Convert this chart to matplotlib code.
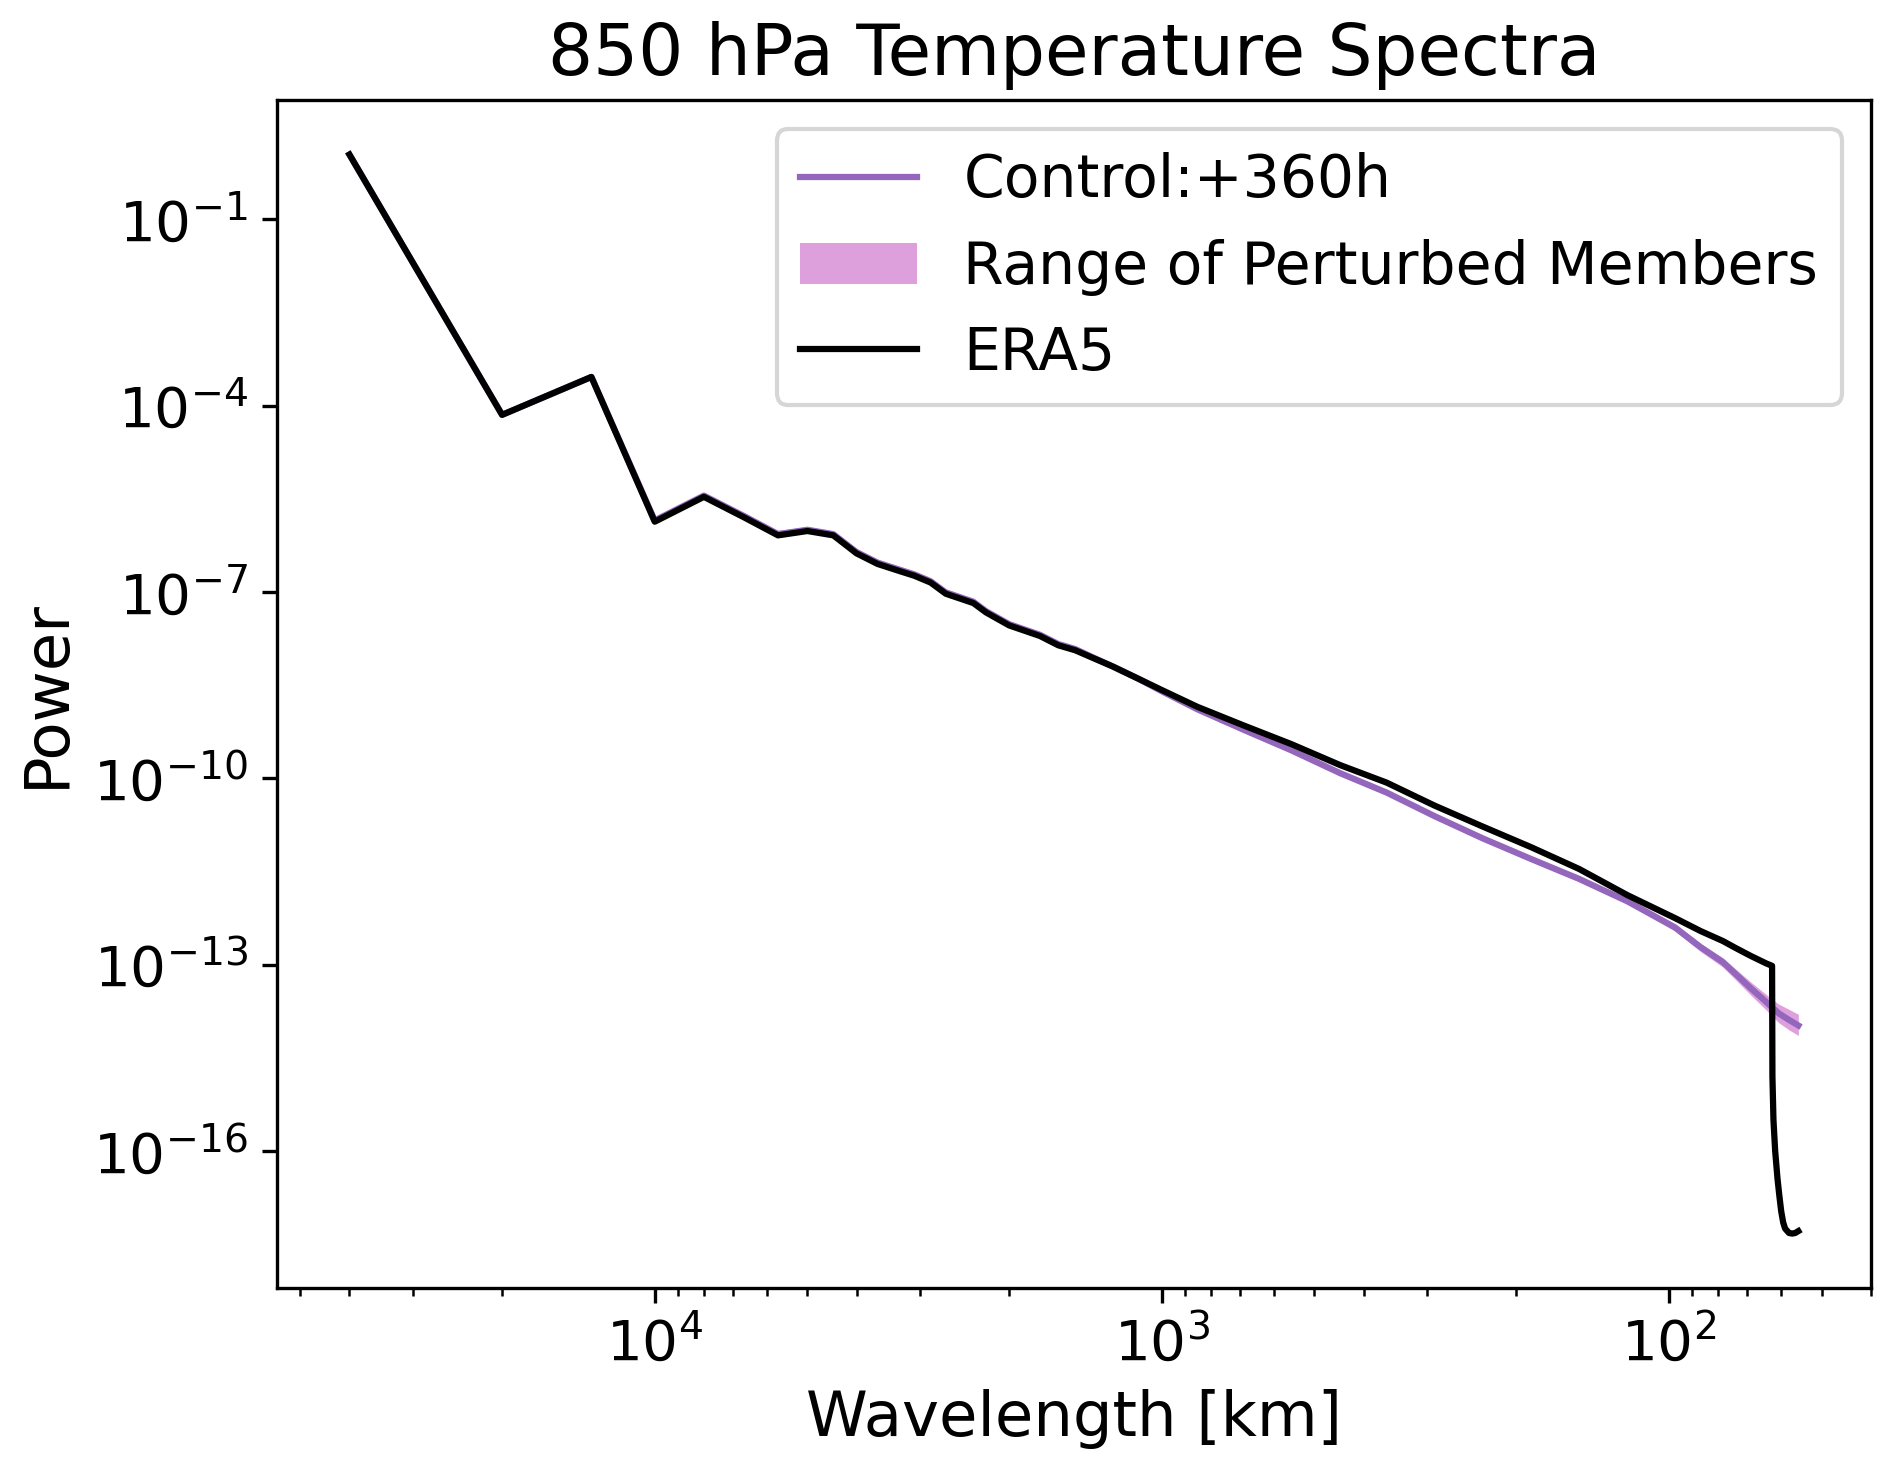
import matplotlib
matplotlib.use('Agg')
import matplotlib.pyplot as plt
import numpy as np

# global wavenumbers and log10(power)
era5_k = [1, 2, 3, 4, 5, 6, 7, 8, 9, 10, 11, 12, 13, 14, 15,
          17, 18, 20, 23, 25, 27, 29, 32, 36,
          40, 47, 58, 72, 90, 111, 138, 172, 214, 266, 331, 411, 462, 511, 538, 580, 622, 639,
          640, 643, 648, 655, 660, 666, 672, 678, 690, 700, 710, 720]
era5_logp = [0.04, -4.15, -3.54, -5.87, -5.47, -5.80, -6.09, -6.02, -6.09, -6.38, -6.55, -6.65, -6.74, -6.85, -7.03,
             -7.18, -7.33, -7.54, -7.71, -7.86, -7.94, -8.05, -8.20, -8.40,
             -8.58, -8.85, -9.15, -9.45, -9.79, -10.07, -10.44, -10.78, -11.11, -11.46, -11.88, -12.25, -12.46,
             -12.62, -12.72, -12.86, -12.98, -13.02,
             -14.8, -15.5, -16.0, -16.45, -16.7, -16.97, -17.15, -17.25, -17.32, -17.33, -17.32, -17.29]

ctrl_k = [1, 2, 3, 4, 5, 6, 7, 8, 9, 10, 11, 12, 13, 14, 15,
          17, 18, 20, 23, 25, 27, 29, 32, 36,
          40, 47, 58, 72, 90, 111, 138, 172, 214, 266, 331, 411, 462, 511, 538, 580, 622, 639,
          660, 690, 720]
ctrl_logp = [0.04, -4.15, -3.54, -5.85, -5.45, -5.78, -6.07, -6.00, -6.07, -6.36, -6.53, -6.63, -6.72, -6.83, -7.01,
             -7.16, -7.31, -7.52, -7.69, -7.84, -7.92, -8.04, -8.20, -8.40,
             -8.60, -8.89, -9.22, -9.55, -9.92, -10.23, -10.61, -10.97, -11.30, -11.62, -11.98, -12.40, -12.72,
             -12.96, -13.13, -13.38, -13.60, -13.69,
             -13.79, -13.89, -13.98]
pert_hi_logp = [0.05, -4.13, -3.52, -5.79, -5.40, -5.72, -6.01, -5.95, -6.02, -6.30, -6.47, -6.57, -6.66, -6.77, -6.95,
                -7.10, -7.26, -7.47, -7.65, -7.80, -7.89, -8.00, -8.15, -8.36,
                -8.55, -8.85, -9.18, -9.51, -9.88, -10.19, -10.57, -10.93, -11.26, -11.58, -11.94, -12.35, -12.66,
                -12.89, -13.05, -13.28, -13.48, -13.56,
                -13.64, -13.72, -13.80]
pert_lo_logp = [0.03, -4.17, -3.56, -5.90, -5.50, -5.83, -6.12, -6.05, -6.12, -6.41, -6.58, -6.68, -6.77, -6.88, -7.06,
                -7.21, -7.36, -7.57, -7.74, -7.89, -7.97, -8.08, -8.24, -8.44,
                -8.64, -8.93, -9.26, -9.59, -9.96, -10.27, -10.65, -11.01, -11.34, -11.66, -12.02, -12.46, -12.79,
                -13.04, -13.22, -13.49, -13.73, -13.83,
                -13.94, -14.05, -14.14]

EARTH_CIRC = 40000.0  # km


def main():
    era5_wl = EARTH_CIRC / np.array(era5_k)
    ctrl_wl = EARTH_CIRC / np.array(ctrl_k)

    fig, ax = plt.subplots(figsize=(1892 / 300, 1470 / 300), dpi=300)
    fig.subplots_adjust(left=0.1464, right=0.9888, bottom=0.1241, top=0.932)

    ax.fill_between(ctrl_wl, 10 ** np.array(pert_lo_logp), 10 ** np.array(pert_hi_logp),
                    color='plum', linewidth=0, label='Range of Perturbed Members')
    ax.plot(ctrl_wl, 10 ** np.array(ctrl_logp), color='tab:purple', lw=1.5, label='Control:+360h')
    ax.plot(era5_wl, 10 ** np.array(era5_logp), color='black', lw=1.5, label='ERA5')

    ax.set_xscale('log')
    ax.set_yscale('log')
    ax.invert_xaxis()
    ax.yaxis.set_minor_locator(matplotlib.ticker.NullLocator())

    ax.set_title('850 hPa Temperature Spectra', fontsize=17)
    ax.set_xlabel('Wavelength [km]', fontsize=15)
    ax.set_ylabel('Power', fontsize=15)
    ax.tick_params(axis='both', which='major', labelsize=13.5)

    handles, labels = ax.get_legend_handles_labels()
    order = [1, 0, 2]
    ax.legend([handles[i] for i in order], [labels[i] for i in order],
              loc='upper right', fontsize=14)

    fig.savefig('out.png', dpi=300)


if __name__ == '__main__':
    main()
